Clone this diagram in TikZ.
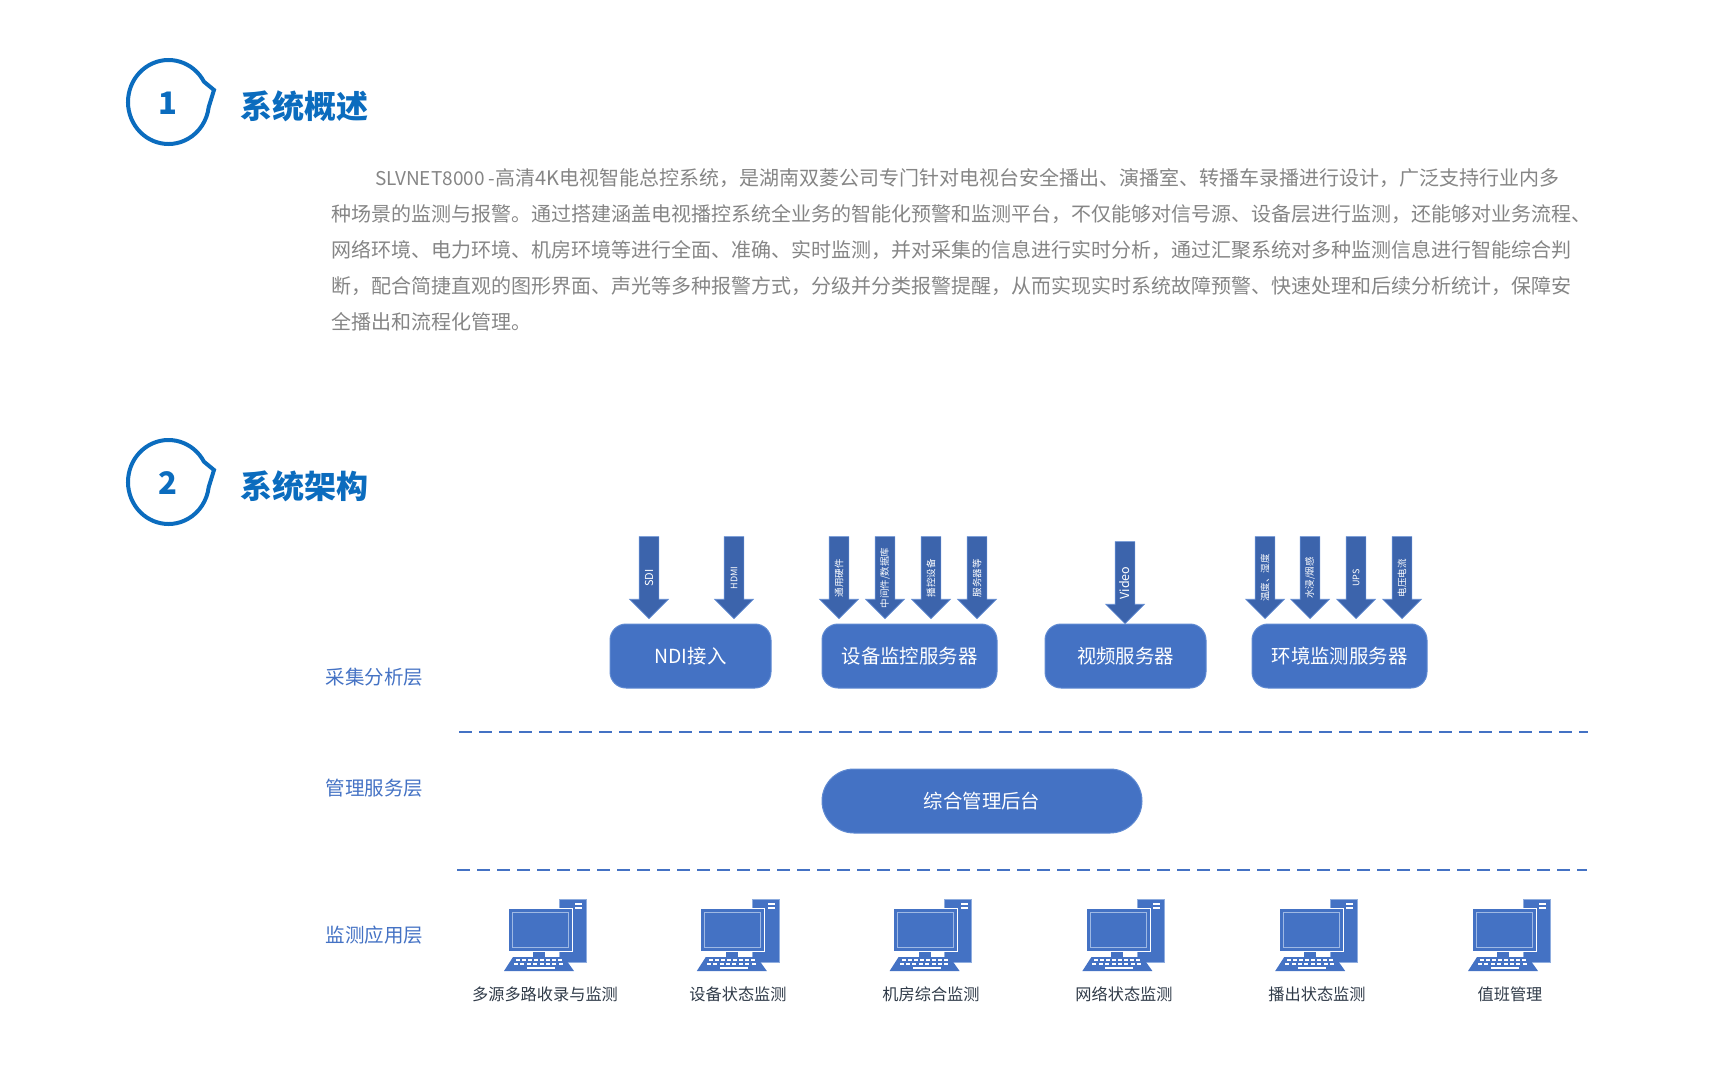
\documentclass[tikz,border=0pt]{standalone}
\usepackage{fontspec}
\setmainfont{Noto Sans CJK SC}
\usetikzlibrary{shapes.arrows}
\definecolor{headblue}{HTML}{0B6CBE}
\definecolor{boxblue}{HTML}{4472C4}
\definecolor{boxedge}{HTML}{5F8AD2}
\definecolor{arrowblue}{HTML}{3C64AC}
\definecolor{bodygray}{HTML}{858585}
\definecolor{labelgray}{HTML}{2F3A48}
\newcommand{\fsize}[1]{\fontsize{#1}{#1}\selectfont}
\tikzset{
  bodyline/.style={anchor=west, inner sep=0pt, text=bodygray, font=\fsize{20}},
  headtitle/.style={anchor=west, inner sep=0pt, text=headblue, font=\fsize{32}\bfseries},
  headnum/.style={inner sep=0pt, text=headblue, font=\fsize{31}\bfseries},
  layerlabel/.style={inner sep=0pt, text=boxblue, font=\fsize{19.5}},
  srvbox/.style={draw=boxedge, fill=boxblue, line width=1pt, rounded corners=#1, inner sep=0pt, text=white, font=\fsize{19.4}},
  srvbox/.default=16pt,
  sigarrow/.style={shape=single arrow, rotate=90, shape border rotate=180, anchor=tip, draw=boxedge, line width=0.6pt,
    fill=arrowblue, text height=19pt, text depth=0pt, text width=0pt, minimum height=82pt, minimum width=38pt,
    single arrow head extend=9.5pt, single arrow tip angle=90, inner sep=0pt},
  siglabel/.style={rotate=90, inner sep=0pt, text=white, font=\fsize{#1}},
  siglabel/.default=9.5,
  sepline/.style={draw=boxblue, line width=1.4pt, dash pattern=on 13pt off 7pt},
  pclabel/.style={inner sep=0pt, text=labelgray, font=\fsize{16.2}},
}
\begin{document}
\begin{tikzpicture}[x=1pt, y=-1pt]
  \useasboundingbox (0,0) rectangle (1725,1080);
  % section heads
  \foreach \n/\t/\y in {1/系统概述/102, 2/系统架构/482} {
    \draw[headblue, line width=4pt, miter limit=10] ([shift={(-29:40.5 and 42)}]168.5,\y) arc (-29:-353:40.5 and 42)
      -- (214,\y-12) -- cycle;
    \node[headnum] (num\n) at (168,\y+1) {\n};
    \node[headtitle] (title\n) at (240,\y+4) {\t};
  }
  % overview text
  \node[bodyline] (line1) at (375,178) {{\fsize{19}SLVNET8000 -}高清4K电视智能总控系统，是湖南双菱公司专门针对电视台安全播出、演播室、转播车录播进行设计，广泛支持行业内多};
  \node[bodyline] (line2) at (331,214) {种场景的监测与报警。通过搭建涵盖电视播控系统全业务的智能化预警和监测平台，不仅能够对信号源、设备层进行监测，还能够对业务流程、};
  \node[bodyline] (line3) at (331,250) {网络环境、电力环境、机房环境等进行全面、准确、实时监测，并对采集的信息进行实时分析，通过汇聚系统对多种监测信息进行智能综合判};
  \node[bodyline] (line4) at (331,286) {断，配合简捷直观的图形界面、声光等多种报警方式，分级并分类报警提醒，从而实现实时系统故障预警、快速处理和后续分析统计，保障安};
  \node[bodyline] (line5) at (331,322) {全播出和流程化管理。};
  % layer names
  \node[layerlabel] (layera) at (374.5,677) {采集分析层};
  \node[layerlabel] (layerb) at (374.5,788) {管理服务层};
  \node[layerlabel] (layerc) at (374.5,935) {监测应用层};
  % servers
  \node[srvbox, minimum width=161pt, minimum height=64pt] (ndi) at (690.5,656) {NDI接入};
  \node[srvbox, minimum width=175pt, minimum height=64pt] (devsrv) at (909.5,656) {设备监控服务器};
  \node[srvbox, minimum width=161pt, minimum height=64pt] (vidsrv) at (1125.5,656) {视频服务器};
  \node[srvbox, minimum width=175pt, minimum height=64pt] (envsrv) at (1339.5,656) {环境监测服务器};
  \node[srvbox=32pt, minimum width=320pt, minimum height=64pt] (mgmt) at (982,801) {综合管理后台};
  % signal arrows
  \foreach \x/\t/\s in {649/SDI/11, 734/HDMI/9, 839/通用硬件/9.5, 885/{中间件/数据库}/9.5, 931/播控设备/9.5, 977/服务器等/9.5,
      1265/温度、湿度/9.5, 1310/{水浸/烟感}/9.5, 1356/UPS/9, 1402/电压电流/9.5} {
    \node[sigarrow] (sig\x) at (\x,619) {};
    \node[siglabel=\s] (sigtext\x) at (\x,578) {\t};
  }
  \node[sigarrow] (sigvideo) at (1125,624) {};
  \node[siglabel=12.5] (sigtextvideo) at (1125,583) {Video};
  % layer separators
  \coordinate (sepaw) at (459,732);
  \coordinate (sepae) at (1588,732);
  \coordinate (sepbw) at (457,870);
  \coordinate (sepbe) at (1587,870);
  \draw[sepline] (sepaw) -- (sepae);
  \draw[sepline] (sepbw) -- (sepbe);
  % workstations
  \foreach \i/\t in {0/多源多路收录与监测, 1/设备状态监测, 2/机房综合监测, 3/网络状态监测, 4/播出状态监测, 5/值班管理} {
    \begin{scope}[xshift=192.8*\i]
      \fill[boxblue, draw=boxedge!70, line width=0.6pt] (559,899) rectangle (586,962);
      \fill[white] (575,903) rectangle (582,905);
      \fill[white] (575,907) rectangle (582,909);
      \fill[boxblue] (533,950) rectangle (545,960);
      \fill[boxblue, draw=white, line width=0.8pt] (508,908) rectangle (572,951);
      \draw[boxedge!60!white, line width=1pt] (512,912) rectangle (568,947);
      \fill[boxblue] (513,957) -- (564,957) -- (574,971) -- (504,971) -- cycle;
      \foreach \k in {0,...,7} {
        \fill[white] (516+\k*6,959) rectangle (520+\k*6,961);
        \fill[white] (514+\k*6.4,963) rectangle (518+\k*6.4,965);
      }
      \fill[white] (527,967) rectangle (555,969);
    \end{scope}
    \node[pclabel] (pc\i) at (545+193*\i,994) {\t};
  }
\end{tikzpicture}
\end{document}
